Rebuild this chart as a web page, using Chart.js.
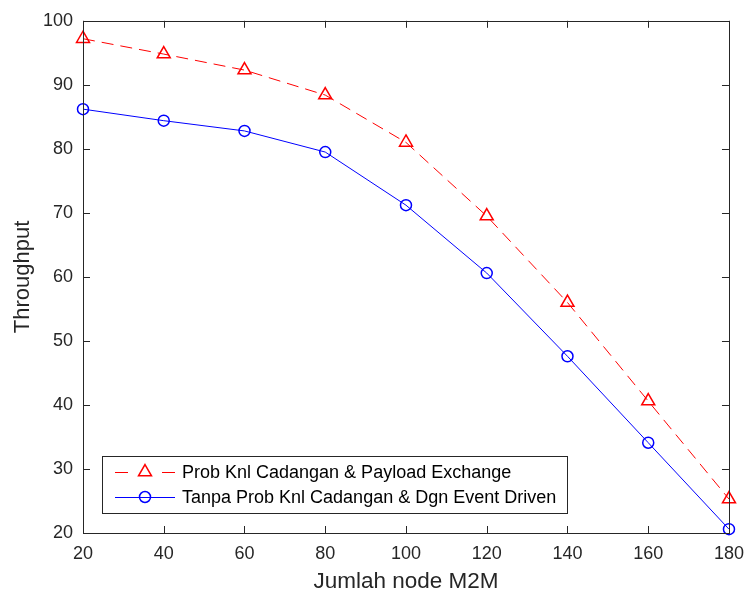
<!DOCTYPE html>
<html>
<head>
<meta charset="utf-8">
<script src="https://cdn.jsdelivr.net/npm/chart.js@4.4.0/dist/chart.umd.min.js"></script>
<style>body{margin:0;background:#fff}</style>
</head>
<body>
<canvas id="grafico" width="754" height="598"></canvas>
<script>
// datos
var nodos = [20, 40, 60, 80, 100, 120, 140, 160, 180];
var throughputCadangan = [97.2, 94.8, 92.3, 88.4, 81.0, 69.5, 56.0, 40.6, 25.3];
var throughputTanpa = [86.2, 84.4, 82.8, 79.5, 71.2, 60.6, 47.6, 34.1, 20.6];
var etiquetas = ['Prob Knl Cadangan & Payload Exchange', 'Tanpa Prob Knl Cadangan & Dgn Event Driven'];
var tituloX = 'Jumlah node M2M';
var tituloY = 'Throughput';

var colorEje = '#262626';
Chart.defaults.font.family = '"Liberation Sans", Arial, sans-serif';

function puntos(valores) {
   return nodos.map(function (n, i) { return { x: n, y: valores[i] }; });
}

// marco tipo MATLAB con marcas hacia dentro
var marcoEjes = {
   id: 'marcoEjes',
   afterDraw: function (chart) {
      var ctx = chart.ctx;
      var a = chart.chartArea;
      var sx = chart.scales.x, sy = chart.scales.y;
      var largo = 7;
      ctx.save();
      ctx.strokeStyle = colorEje;
      ctx.lineWidth = 1;
      ctx.strokeRect(Math.round(a.left) + 0.5, Math.round(a.top) + 0.5,
         Math.round(a.right - a.left), Math.round(a.bottom - a.top));
      ctx.beginPath();
      sx.ticks.forEach(function (t) {
         var px = Math.round(sx.getPixelForValue(t.value)) + 0.5;
         ctx.moveTo(px, a.bottom); ctx.lineTo(px, a.bottom - largo);
         ctx.moveTo(px, a.top); ctx.lineTo(px, a.top + largo);
      });
      sy.ticks.forEach(function (t) {
         var py = Math.round(sy.getPixelForValue(t.value)) + 0.5;
         ctx.moveTo(a.left, py); ctx.lineTo(a.left + largo, py);
         ctx.moveTo(a.right, py); ctx.lineTo(a.right - largo, py);
      });
      ctx.stroke();

      // leyenda
      var lx = 102, ly = 456, lw = 465, lh = 57;
      ctx.fillStyle = '#fff';
      ctx.fillRect(lx, ly, lw, lh);
      ctx.strokeStyle = colorEje;
      ctx.strokeRect(lx + 0.5, ly + 0.5, lw, lh);
      var filas = [472, 497];
      chart.data.datasets.forEach(function (ds, i) {
         var y = filas[i];
         ctx.strokeStyle = ds.borderColor;
         ctx.lineWidth = 1;
         ctx.beginPath();
         if (ds.borderDash && ds.borderDash.length) {
            ctx.moveTo(115, y + 0.5); ctx.lineTo(128, y + 0.5);
            ctx.moveTo(162, y + 0.5); ctx.lineTo(175, y + 0.5);
         } else {
            ctx.moveTo(115, y + 0.5); ctx.lineTo(175, y + 0.5);
         }
         ctx.stroke();
         ctx.lineWidth = ds.pointBorderWidth;
         ctx.beginPath();
         var cx = 145, r = ds.pointRadius;
         if (ds.pointStyle === 'triangle') {
            ctx.moveTo(cx, y - r);
            ctx.lineTo(cx + r * 0.866, y + r / 2);
            ctx.lineTo(cx - r * 0.866, y + r / 2);
            ctx.closePath();
         } else {
            ctx.arc(cx, y, r, 0, Math.PI * 2);
         }
         ctx.stroke();
         ctx.fillStyle = '#000';
         ctx.font = '18px "Liberation Sans", Arial, sans-serif';
         ctx.textBaseline = 'middle';
         ctx.fillText(ds.label, 182, y + 1);
      });
      ctx.restore();
   }
};

var ctxGrafico = document.getElementById('grafico').getContext('2d');
var miGrafico = new Chart(ctxGrafico, {
   type: 'line',
   data: {
      datasets: [{
         label: etiquetas[0],
         data: puntos(throughputCadangan),
         borderColor: '#ff0000',
         borderWidth: 1,
         borderDash: [12, 7],
         pointStyle: 'triangle',
         pointRadius: 7.5,
         pointBorderWidth: 1.5,
         pointBorderColor: '#ff0000',
         pointBackgroundColor: 'rgba(0,0,0,0)',
         clip: false,
         tension: 0
      }, {
         label: etiquetas[1],
         data: puntos(throughputTanpa),
         borderColor: '#0000ff',
         borderWidth: 1,
         pointStyle: 'circle',
         pointRadius: 5.5,
         pointBorderWidth: 1.5,
         pointBorderColor: '#0000ff',
         pointBackgroundColor: 'rgba(0,0,0,0)',
         clip: false,
         tension: 0
      }]
   },
   options: {
      responsive: false,
      animation: false,
      layout: { padding: { top: 14, right: 16, left: 0, bottom: 0 } },
      plugins: { legend: { display: false }, tooltip: { enabled: false } },
      scales: {
         x: {
            type: 'linear',
            min: 20,
            max: 180,
            grid: { display: false, drawTicks: false },
            border: { display: false },
            ticks: { stepSize: 20, padding: 10, color: colorEje, font: { size: 18 } },
            title: {
               display: true,
               text: tituloX,
               color: colorEje,
               font: { size: 22.5 },
               padding: { top: 0, bottom: 3 }
            },
            afterFit: function (s) { s.height = 65; }
         },
         y: {
            min: 20,
            max: 100,
            grid: { display: false, drawTicks: false },
            border: { display: false },
            ticks: { stepSize: 10, padding: 10, color: colorEje, font: { size: 18 } },
            title: {
               display: true,
               text: tituloY,
               color: colorEje,
               font: { size: 22 },
               padding: { top: 10, bottom: 0 }
            },
            afterFit: function (s) { s.width = 83; }
         }
      }
   },
   plugins: [marcoEjes]
});
</script>
</body>
</html>
